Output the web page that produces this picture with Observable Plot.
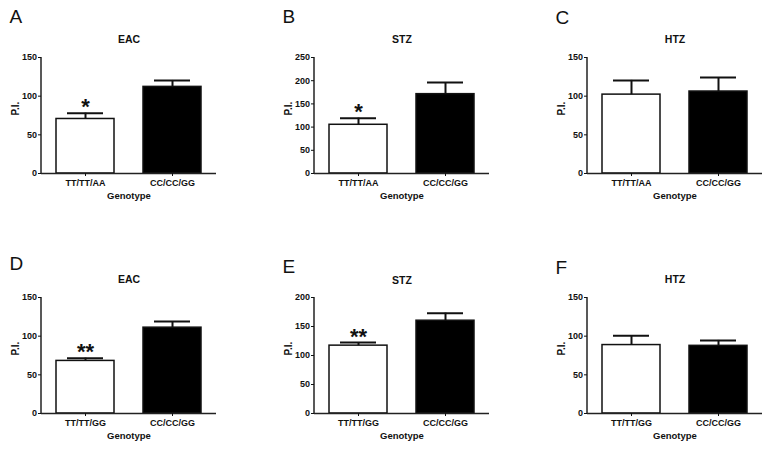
<!DOCTYPE html>
<html><head><meta charset="utf-8">
<script src="https://cdn.jsdelivr.net/npm/d3@7"></script>
<script src="https://cdn.jsdelivr.net/npm/@observablehq/plot@0.6"></script>
<style>
html,body{margin:0;padding:0;background:#fff;}
#fig{position:relative;width:773px;height:449px;overflow:hidden;background:#fff;}
#fig svg{position:absolute;}
</style></head><body><div id="fig"></div>
<script>
// ---- data ----
const letters = ["A", "B", "C", "D", "E", "F"];
const titles = ["EAC", "STZ", "HTZ", "EAC", "STZ", "HTZ"];
const genotypesTop = ["TT/TT/AA", "CC/CC/GG"];
const genotypesBottom = ["TT/TT/GG", "CC/CC/GG"];
const yMax = [150, 250, 150, 150, 200, 150];
const yTicks = [
  [0, 50, 100, 150],
  [0, 50, 100, 150, 200, 250],
  [0, 50, 100, 150],
  [0, 50, 100, 150],
  [0, 50, 100, 150, 200],
  [0, 50, 100, 150]
];
const means = [[70.5, 112], [105, 171], [102, 106], [68, 111], [117, 160], [88.5, 87.5]];
const upperErr = [[78, 120.3], [119.3, 196], [120.4, 124], [71.6, 119], [122.4, 173], [100.4, 94.5]];
const signif = [["*", ""], ["*", ""], ["", ""], ["**", ""], ["**", ""], ["", ""]];
const barFills = ["#ffffff", "#000000"];

// ---- layout ----
const axisLeft = [41, 313.5, 587];
const rowTop = [56.7, 296.7];
const frameW = 175, frameH = 116;
const letterDy = [-47.7, -47.7, -47, -41, -38.4, -36.7];
const titleDy = [-18, -18, -18, -18, -16.5, -17.5];
const ml = 45, mr = 6, mt = 52, mb = 32;
const FONT = "'Liberation Sans', Arial, Helvetica, sans-serif";
const fig = document.getElementById("fig");

function yAxisLine(index, scales, values, dims) {
  const l = document.createElementNS("http://www.w3.org/2000/svg", "line");
  l.setAttribute("x1", dims.marginLeft);
  l.setAttribute("x2", dims.marginLeft);
  l.setAttribute("y1", dims.marginTop);
  l.setAttribute("y2", dims.height - dims.marginBottom + 0.75);
  l.setAttribute("stroke", "#222");
  l.setAttribute("stroke-width", 1.5);
  return l;
}

for (let i = 0; i < 6; i++) {
  const row = Math.floor(i / 3), col = i % 3;
  const cats = row === 0 ? genotypesTop : genotypesBottom;
  const data = cats.map((g, j) => ({g, v: means[i][j], e: upperErr[i][j], s: signif[i][j], f: barFills[j]}));
  const chart = Plot.plot({
    width: ml + frameW + mr,
    height: mt + frameH + mb,
    marginLeft: ml, marginRight: mr, marginTop: mt, marginBottom: mb,
    style: {fontFamily: FONT, fontSize: "9px", fontWeight: "bold", color: "#111", background: "transparent", overflow: "visible"},
    x: {domain: cats, paddingInner: 0.335, paddingOuter: 0.165, axis: null},
    y: {domain: [0, yMax[i]], axis: null},
    color: {type: "identity"},
    marks: [
      Plot.barY(data, {x: "g", y: "v", fill: "f", stroke: "#111", strokeWidth: 1.5}),
      Plot.ruleX(data, {x: "g", y1: "v", y2: "e", stroke: "#111", strokeWidth: 2}),
      Plot.tickY(data, {x: "g", y: "e", stroke: "#111", strokeWidth: 2, insetLeft: 11, insetRight: 11}),
      Plot.ruleY([0], {stroke: "#222", strokeWidth: 1.5}),
      yAxisLine,
      Plot.axisX({tickSize: 3, tickPadding: 3.5, label: null}),
      Plot.axisY({ticks: yTicks[i], tickSize: 3, tickPadding: 1.5, label: null, tickFormat: d => String(d)}),
      Plot.text(data.filter(d => d.s), {x: "g", y: "e", text: "s", fontSize: 22, lineAnchor: "bottom", dy: 1}),
      Plot.text(["Genotype"], {text: d => d, frameAnchor: "bottom", dy: 22.5, fontSize: 9.5, lineAnchor: "middle"}),
      Plot.text(["P.I."], {text: d => d, frameAnchor: "left", dx: -26, rotate: -90, fontSize: 10, lineAnchor: "middle"}),
      Plot.text([titles[i]], {text: d => d, frameAnchor: "top", dy: titleDy[i], fontSize: 10.5, lineAnchor: "middle"}),
      Plot.text([letters[i]], {text: d => d, frameAnchor: "top-left", dx: -32, dy: letterDy[i], fontSize: 19, fontWeight: "normal", lineAnchor: "top", textAnchor: "start"})
    ]
  });
  chart.style.left = (axisLeft[col] - ml) + "px";
  chart.style.top = (rowTop[row] - mt) + "px";
  fig.appendChild(chart);
}
</script>
</body></html>
